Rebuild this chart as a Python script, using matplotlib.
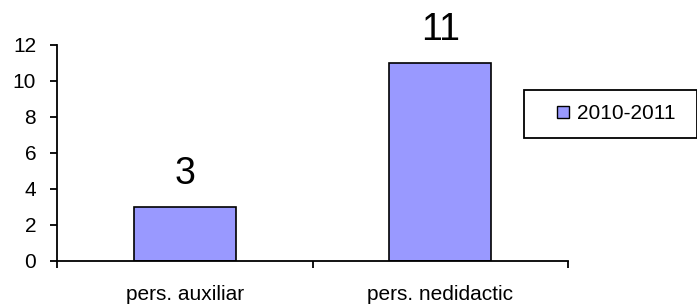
import matplotlib
matplotlib.use("Agg")
import matplotlib.pyplot as plt
from matplotlib.lines import Line2D

plt.rcParams['font.family'] = ['Liberation Sans', 'DejaVu Sans']

categories = ["pers. auxiliar", "pers. nedidactic"]
values = [3, 11]
series_name = "2010-2011"
yticks = [0, 2, 4, 6, 8, 10, 12]

bar_color = "#9999ff"
W, H = 697, 305
fig = plt.figure(figsize=(W / 100, H / 100), dpi=100)
ax = fig.add_axes([57 / W, (H - 261) / H, 511 / W, 216 / H])

x = list(range(len(categories)))
bars = ax.bar(x, values, width=0.4, color=bar_color, edgecolor="black", linewidth=1.2,
              label=series_name)
ax.bar_label(bars, labels=[str(v) for v in values], padding=11, fontsize=27)

ax.set_xlim(-0.5, len(categories) - 0.5)
ax.set_ylim(0, 12)
ax.set_yticks(yticks)
ax.tick_params(axis='y', direction='out', length=5, width=1.3, pad=10, labelsize=15)

ax.set_xticks([i - 0.5 for i in range(len(categories) + 1)])
ax.set_xticklabels([])
ax.set_xticks(x, minor=True)
ax.set_xticklabels(categories, minor=True)
ax.tick_params(axis='x', which='major', direction='out', length=5, width=1.3)
ax.tick_params(axis='x', which='minor', length=0, pad=17, labelsize=15)

for s in ("top", "right"):
    ax.spines[s].set_visible(False)
for s in ("left", "bottom"):
    ax.spines[s].set_linewidth(1.3)

proxy = Line2D([], [], linestyle='none', marker='s', markersize=8.6,
               markerfacecolor=bar_color, markeredgecolor='black', markeredgewidth=1.0)
fs = 15
leg = fig.legend([proxy], [series_name], loc='upper left',
                 bbox_to_anchor=(524 / W, 1 - 90 / H - 0.01, (697 - 524) / W, 0.01),
                 mode='expand', borderaxespad=0, fontsize=fs, borderpad=0.69,
                 handlelength=2.41, handletextpad=-0.56, fancybox=False,
                 frameon=True, edgecolor='black', framealpha=1)
leg.get_frame().set_linewidth(1.3)

fig.savefig("out.png", dpi=100)
